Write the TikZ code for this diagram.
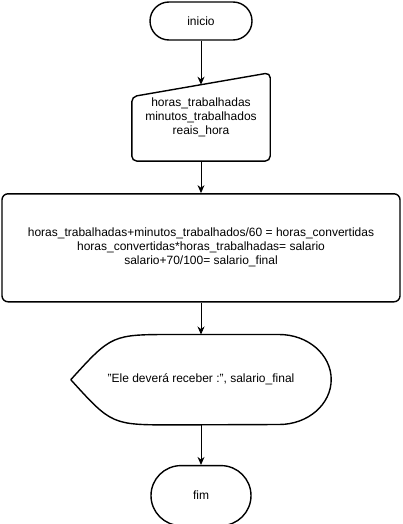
\documentclass[tikz,border=0pt]{standalone}
\usepackage{fontspec}
\setmainfont{Liberation Sans}
\usepackage{tikz}
\usetikzlibrary{arrows.meta, positioning, calc}

\begin{document}
\begin{tikzpicture}[
    x=1pt, y=-1pt,
    font=\fontsize{12}{14}\selectfont,
    forma/.style={draw, line width=1.4pt, line join=round},
    terminal/.style={
      forma, rectangle, minimum width=102pt, minimum height=38pt,
      rounded corners=19pt, inner sep=0pt
    },
    entrada/.style={
      rectangle, minimum width=138pt, minimum height=88pt,
      align=center, inner sep=0pt
    },
    processo/.style={
      forma, rectangle, rounded corners=6pt, minimum width=398pt,
      minimum height=108pt, align=center, inner sep=0pt
    },
    exibir/.style={
      rectangle, minimum width=260pt, minimum height=90pt, inner sep=0pt
    },
    seta/.style={-{Stealth[length=8pt,width=7pt]}, line width=0.9pt}
]
  \useasboundingbox (0,0) rectangle (402,524);

  \node[terminal] (inicio) at (201,21) {inicio};
  \node[entrada]  (entrada) [below=32pt of inicio]
    {horas\_trabalhadas\\minutos\_trabalhados\\reais\_hora};
  \node[processo] (calculo) [below=32pt of entrada]
    {horas\_trabalhadas+minutos\_trabalhados/60 = horas\_convertidas\\
     horas\_convertidas*horas\_trabalhadas= salario\\
     salario+70/100= salario\_final};
  \node[exibir]   (saida) [below=32pt of calculo]
    {"Ele deverá receber :", salario\_final};
  \node[terminal, minimum width=100pt, minimum height=60pt,
        rounded corners=30pt] (fim) [below=40pt of saida] {fim};

  \draw[forma, rounded corners=5pt] ($(entrada.north west)+(0,-24pt)$)
    -- (entrada.north east) -- (entrada.south east)
    -- (entrada.south west) -- cycle;
  \draw[forma] (saida.west)
    .. controls ($(saida.north west)+(41pt,0)$) .. ($(saida.north west)+(103pt,0)$)
    -- ($(saida.north east)+(-52pt,0)$)
    arc[start angle=90, end angle=-90, x radius=52pt, y radius=45pt]
    -- ($(saida.south west)+(103pt,0)$)
    .. controls ($(saida.south west)+(41pt,0)$) .. (saida.west) -- cycle;

  \coordinate (topo) at ($(entrada.north)+(0,-12pt)$);
  \draw[seta] (inicio.south) -- (topo);
  \draw[seta] (entrada.south) -- (calculo.north);
  \draw[seta] (calculo.south) -- (saida.north);
  \draw[seta] (saida.south) -- (fim.north);
\end{tikzpicture}
\end{document}
